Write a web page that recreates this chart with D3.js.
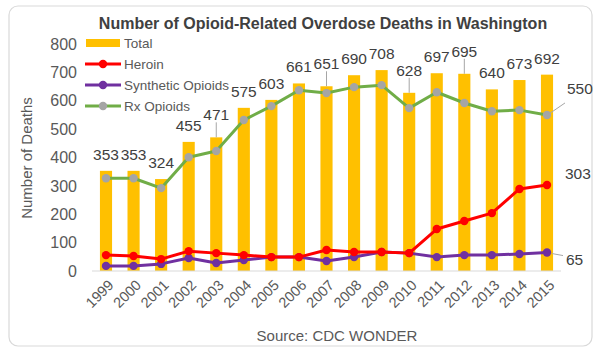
<!DOCTYPE html>
<html><head><meta charset="utf-8">
<script src="https://cdn.jsdelivr.net/npm/d3@7"></script>
<style>body{margin:0;background:#fff}svg{display:block}text{font-family:"Liberation Sans",Arial,sans-serif}</style>
</head><body><svg id="c" width="600" height="356"></svg>
<script>
const years = ["1999","2000","2001","2002","2003","2004","2005","2006","2007","2008","2009","2010","2011","2012","2013","2014","2015"];
const total = [353,353,324,455,471,575,603,661,651,690,708,628,697,695,640,673,692];
const heroin = [56,53,42,70,63,56,49,49,74,67,67,63,148,176,204,289,303];
const synthetic = [18,18,25,46,28,39,49,49,35,49,67,63,49,56,56,60,65];
const rx = [327,327,292,401,423,532,581,637,627,648,655,574,630,592,563,567,550];
const yTicks = [0,100,200,300,400,500,600,700,800];
const leaderYears = ["2003","2007","2010","2012"];

const svg = d3.select("#c");
const grey = "#595959";
svg.append("rect").attr("x",9).attr("y",6).attr("width",583).attr("height",340).attr("rx",9)
  .attr("fill","#fff").attr("stroke","#d9d9d9").attr("stroke-width",1.2);

const x = d3.scalePoint().domain(years).range([106,547]);
const y = d3.scaleLinear().domain([0,800]).range([271,44]);
const bw = x.step()*0.44;

svg.append("text").attr("x",323).attr("y",29).attr("text-anchor","middle")
  .attr("font-size",16).attr("font-weight","bold").attr("fill","#404040")
  .text("Number of Opioid-Related Overdose Deaths in Washington");

// y axis
const ya = svg.append("g").attr("transform","translate(86,0)")
  .call(d3.axisLeft(y).tickValues(yTicks).tickSize(0).tickPadding(9));
ya.select(".domain").remove();
ya.selectAll("text").attr("font-size",16).attr("fill",grey).style("font-family","Liberation Sans, Arial");

svg.append("text").attr("transform","translate(32,158) rotate(-90)").attr("text-anchor","middle")
  .attr("font-size",15).attr("fill",grey).text("Number of Deaths");

// bars
svg.append("g").selectAll("rect").data(years).join("rect")
  .attr("x",d=>x(d)-bw/2).attr("width",bw)
  .attr("y",(d,i)=>y(total[i])).attr("height",(d,i)=>y(0)-y(total[i]))
  .attr("fill","#FFC000");

// baseline
svg.append("line").attr("x1",92).attr("x2",561).attr("y1",y(0)).attr("y2",y(0)).attr("stroke","#d9d9d9");

// x axis labels
const xa = svg.append("g").attr("transform",`translate(0,${y(0)})`)
  .call(d3.axisBottom(x).tickSize(0).tickPadding(0));
xa.select(".domain").remove();
xa.selectAll("text").attr("font-size",14.5).attr("fill",grey).style("font-family","Liberation Sans, Arial")
  .attr("text-anchor","end").attr("dy",0).attr("dx",0)
  .attr("transform","translate(8,15) rotate(-45)");

// total labels
years.forEach((yr,i)=>{
  const lead = leaderYears.includes(yr);
  const off = lead ? 17 : 11;
  if(lead){
    svg.append("line").attr("x1",x(yr)).attr("x2",x(yr)).attr("y1",y(total[i])-off+2).attr("y2",y(total[i]))
      .attr("stroke","#a6a6a6").attr("stroke-width",1);
  }
  svg.append("text").attr("x",x(yr)).attr("y",y(total[i])-off).attr("text-anchor","middle")
    .attr("font-size",15.5).attr("fill","#404040").text(total[i]);
});

// lines
const series = [
  {name:"Rx Opioids", vals:rx, line:"#70AD47", mark:"#A5A5A5"},
  {name:"Synthetic Opioids", vals:synthetic, line:"#7030A0", mark:"#7030A0"},
  {name:"Heroin", vals:heroin, line:"#FF0000", mark:"#FF0000"}
];
const lineGen = d3.line().x((d,i)=>x(years[i])).y(d=>y(d));
series.forEach(s=>{
  svg.append("path").datum(s.vals).attr("d",lineGen).attr("fill","none")
    .attr("stroke",s.line).attr("stroke-width",3).attr("stroke-linejoin","round");
  svg.append("g").selectAll("circle").data(s.vals).join("circle")
    .attr("cx",(d,i)=>x(years[i])).attr("cy",d=>y(d)).attr("r",4.2).attr("fill",s.mark);
});

// end labels
const last = years[years.length-1];
svg.append("line").attr("x1",x(last)+2).attr("y1",y(rx[16])-1).attr("x2",x(last)+18).attr("y2",y(rx[16])-12)
  .attr("stroke","#a6a6a6");
svg.append("text").attr("x",x(last)+20).attr("y",y(rx[16])-21).attr("font-size",15.5).attr("fill","#404040").text(rx[16]);
svg.append("text").attr("x",x(last)+18).attr("y",y(heroin[16])-6).attr("font-size",15.5).attr("fill","#404040").text(heroin[16]);
svg.append("line").attr("x1",x(last)+5).attr("y1",y(synthetic[16])+1).attr("x2",x(last)+16).attr("y2",y(synthetic[16])+3)
  .attr("stroke","#a6a6a6");
svg.append("text").attr("x",x(last)+19).attr("y",y(synthetic[16])+12).attr("font-size",15.5).attr("fill","#404040").text(synthetic[16]);

// legend
const lg = svg.append("g");
const lgItems = [
  {name:"Total", type:"bar", color:"#FFC000"},
  {name:"Heroin", type:"line", color:"#FF0000", mark:"#FF0000"},
  {name:"Synthetic Opioids", type:"line", color:"#7030A0", mark:"#7030A0"},
  {name:"Rx Opioids", type:"line", color:"#70AD47", mark:"#A5A5A5"}
];
lgItems.forEach((it,i)=>{
  const cy = 43 + i*21;
  if(it.type==="bar"){
    lg.append("rect").attr("x",86).attr("y",cy-4).attr("width",34).attr("height",8).attr("fill",it.color);
  } else {
    lg.append("line").attr("x1",85).attr("x2",121).attr("y1",cy).attr("y2",cy).attr("stroke",it.color).attr("stroke-width",3);
    lg.append("circle").attr("cx",103).attr("cy",cy).attr("r",4.2).attr("fill",it.mark);
  }
  lg.append("text").attr("x",124).attr("y",cy+5).attr("font-size",13.5).attr("fill",grey).text(it.name);
});

svg.append("text").attr("x",337).attr("y",341).attr("text-anchor","middle")
  .attr("font-size",15).attr("fill",grey).text("Source: CDC WONDER");
</script></body></html>
